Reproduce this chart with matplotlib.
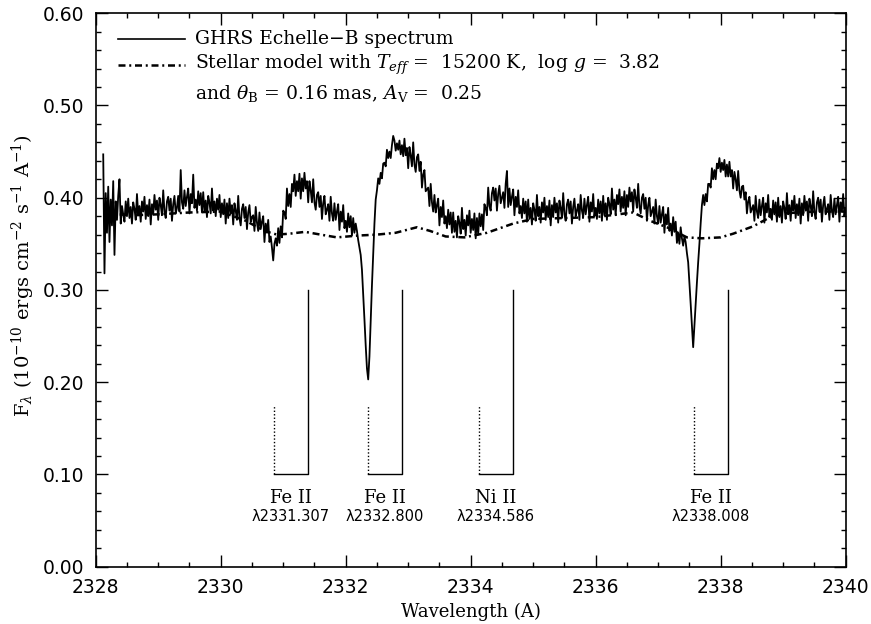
import numpy as np
import matplotlib
matplotlib.use("Agg")
import matplotlib.pyplot as plt
from matplotlib.ticker import MultipleLocator, FormatStrFormatter

# observed GHRS spectrum, sampled every 0.02 A from 2328.12 A (20 values per row = 0.4 A)
wave_start = 2328.12
wave_step = 0.02
flux = [
    0.447, 0.318, 0.405, 0.362, 0.412, 0.352, 0.398, 0.370, 0.418, 0.338, 0.396, 0.376, 0.402, 0.420, 0.372, 0.391, 0.382, 0.374, 0.396, 0.380,
    0.399, 0.378, 0.390, 0.372, 0.395, 0.388, 0.376, 0.404, 0.381, 0.391, 0.374, 0.396, 0.385, 0.401, 0.377, 0.392, 0.380, 0.398, 0.371, 0.393,
    0.382, 0.403, 0.387, 0.397, 0.376, 0.400, 0.392, 0.381, 0.408, 0.385, 0.378, 0.396, 0.401, 0.386, 0.399, 0.375, 0.393, 0.402, 0.383, 0.389,
    0.402, 0.385, 0.430, 0.395, 0.388, 0.408, 0.391, 0.401, 0.410, 0.383, 0.404, 0.394, 0.425, 0.389, 0.398, 0.386, 0.407, 0.392, 0.405, 0.384,
    0.406, 0.385, 0.397, 0.379, 0.402, 0.395, 0.383, 0.410, 0.386, 0.396, 0.380, 0.399, 0.387, 0.403, 0.379, 0.394, 0.382, 0.398, 0.372, 0.394,
    0.378, 0.399, 0.383, 0.392, 0.371, 0.394, 0.386, 0.376, 0.402, 0.378, 0.370, 0.388, 0.393, 0.378, 0.390, 0.366, 0.384, 0.392, 0.374, 0.379,
    0.381, 0.364, 0.390, 0.373, 0.364, 0.384, 0.366, 0.374, 0.380, 0.352, 0.372, 0.362, 0.376, 0.352, 0.358, 0.346, 0.332, 0.350, 0.356, 0.348,
    0.367, 0.351, 0.369, 0.357, 0.386, 0.384, 0.377, 0.410, 0.391, 0.404, 0.390, 0.415, 0.407, 0.425, 0.402, 0.418, 0.407, 0.426, 0.399, 0.421,
    0.407, 0.427, 0.410, 0.418, 0.395, 0.418, 0.408, 0.395, 0.420, 0.395, 0.387, 0.403, 0.406, 0.390, 0.402, 0.377, 0.394, 0.402, 0.382, 0.387,
    0.393, 0.375, 0.401, 0.383, 0.375, 0.394, 0.376, 0.385, 0.393, 0.365, 0.385, 0.374, 0.392, 0.367, 0.375, 0.363, 0.383, 0.368, 0.380, 0.359,
    0.378, 0.362, 0.372, 0.364, 0.354, 0.346, 0.338, 0.322, 0.296, 0.268, 0.240, 0.215, 0.203, 0.228, 0.268, 0.305, 0.340, 0.372, 0.398, 0.408,
    0.421, 0.415, 0.427, 0.421, 0.437, 0.438, 0.434, 0.452, 0.443, 0.450, 0.443, 0.457, 0.467, 0.462, 0.451, 0.459, 0.452, 0.462, 0.447, 0.457,
    0.445, 0.464, 0.446, 0.454, 0.432, 0.455, 0.446, 0.434, 0.460, 0.436, 0.428, 0.444, 0.447, 0.429, 0.439, 0.411, 0.425, 0.430, 0.407, 0.409,
    0.411, 0.391, 0.415, 0.395, 0.385, 0.403, 0.384, 0.392, 0.399, 0.370, 0.390, 0.379, 0.397, 0.372, 0.380, 0.367, 0.387, 0.371, 0.384, 0.362,
    0.384, 0.363, 0.375, 0.357, 0.380, 0.373, 0.361, 0.389, 0.366, 0.376, 0.359, 0.381, 0.370, 0.386, 0.362, 0.377, 0.365, 0.383, 0.356, 0.378,
    0.360, 0.383, 0.369, 0.382, 0.365, 0.393, 0.389, 0.381, 0.411, 0.391, 0.386, 0.405, 0.411, 0.397, 0.410, 0.386, 0.404, 0.413, 0.394, 0.400,
    0.406, 0.389, 0.415, 0.429, 0.390, 0.410, 0.392, 0.401, 0.409, 0.381, 0.401, 0.390, 0.408, 0.383, 0.391, 0.378, 0.399, 0.383, 0.396, 0.374,
    0.398, 0.377, 0.389, 0.371, 0.394, 0.387, 0.375, 0.403, 0.380, 0.390, 0.373, 0.395, 0.384, 0.400, 0.376, 0.391, 0.379, 0.397, 0.370, 0.392,
    0.379, 0.400, 0.384, 0.394, 0.373, 0.397, 0.389, 0.378, 0.405, 0.382, 0.375, 0.393, 0.398, 0.383, 0.396, 0.372, 0.390, 0.399, 0.380, 0.386,
    0.393, 0.376, 0.403, 0.386, 0.379, 0.399, 0.382, 0.392, 0.401, 0.374, 0.395, 0.385, 0.404, 0.380, 0.389, 0.377, 0.398, 0.383, 0.396, 0.375,
    0.402, 0.381, 0.394, 0.376, 0.400, 0.393, 0.382, 0.410, 0.387, 0.398, 0.381, 0.403, 0.393, 0.409, 0.385, 0.401, 0.389, 0.407, 0.381, 0.403,
    0.390, 0.411, 0.396, 0.406, 0.385, 0.409, 0.400, 0.389, 0.415, 0.391, 0.383, 0.400, 0.404, 0.388, 0.400, 0.375, 0.392, 0.400, 0.380, 0.385,
    0.390, 0.372, 0.398, 0.380, 0.372, 0.391, 0.373, 0.382, 0.390, 0.362, 0.382, 0.371, 0.389, 0.364, 0.372, 0.359, 0.379, 0.363, 0.374, 0.351,
    0.362, 0.350, 0.368, 0.356, 0.348, 0.358, 0.352, 0.340, 0.330, 0.308, 0.285, 0.262, 0.238, 0.262, 0.285, 0.308, 0.330, 0.350, 0.372, 0.392,
    0.403, 0.392, 0.404, 0.396, 0.415, 0.415, 0.411, 0.432, 0.420, 0.430, 0.420, 0.437, 0.432, 0.443, 0.428, 0.438, 0.430, 0.441, 0.423, 0.436,
    0.423, 0.439, 0.423, 0.430, 0.410, 0.428, 0.420, 0.408, 0.429, 0.408, 0.400, 0.412, 0.413, 0.398, 0.406, 0.383, 0.396, 0.401, 0.384, 0.388,
    0.392, 0.375, 0.402, 0.385, 0.378, 0.398, 0.381, 0.391, 0.400, 0.373, 0.394, 0.384, 0.403, 0.379, 0.388, 0.376, 0.397, 0.382, 0.395, 0.374,
    0.400, 0.379, 0.391, 0.373, 0.396, 0.389, 0.377, 0.405, 0.382, 0.392, 0.375, 0.397, 0.386, 0.402, 0.378, 0.393, 0.381, 0.399, 0.372, 0.394,
    0.381, 0.402, 0.386, 0.396, 0.375, 0.399, 0.391, 0.380, 0.407, 0.384, 0.377, 0.395, 0.400, 0.385, 0.398, 0.374, 0.392, 0.401, 0.382, 0.388,
    0.393, 0.376, 0.403, 0.386, 0.379, 0.399, 0.382, 0.392, 0.401, 0.374, 0.395, 0.385, 0.404, 0.380, 0.389,
]

# stellar model
model_wave = [2328.12, 2328.6, 2329.0, 2329.5, 2330.0, 2330.4, 2330.7, 2330.9,
              2331.1, 2331.35, 2331.6, 2331.86, 2332.2, 2332.5, 2332.8, 2333.14,
              2333.35, 2333.6, 2333.9, 2334.26, 2334.68, 2335.0, 2335.5, 2336.0,
              2336.6, 2336.87, 2337.14, 2337.46, 2337.7, 2338.0, 2338.2, 2338.52,
              2338.74, 2339.0, 2339.5, 2340.0]
model_flux = [0.383, 0.381, 0.382, 0.384, 0.385, 0.375, 0.364, 0.360,
              0.361, 0.363, 0.360, 0.357, 0.359, 0.360, 0.362, 0.368,
              0.364, 0.358, 0.357, 0.362, 0.372, 0.377, 0.378, 0.379,
              0.384, 0.375, 0.368, 0.357, 0.356, 0.357, 0.361, 0.369,
              0.377, 0.383, 0.385, 0.385]

# line identifications
line_ions = ["Fe II", "Fe II", "Ni II", "Fe II"]
line_labels = ["λ2331.307", "λ2332.800", "λ2334.586", "λ2338.008"]
line_solid = [2331.40, 2332.90, 2334.67, 2338.11]
line_dotted = [2330.85, 2332.35, 2334.13, 2337.57]
mark_base = 0.10
mark_top = 0.30
mark_dot_top = 0.175

plt.rcParams['mathtext.fontset'] = 'dejavuserif'
serif = 'DejaVu Serif'

fig = plt.figure(figsize=(8.71, 6.24), dpi=100)
ax = fig.add_axes([0.1099, 0.0918, 0.861, 0.887])

wave = wave_start + wave_step * np.arange(len(flux))
ax.plot(wave, flux, color='black', lw=1.3)
ax.plot(model_wave, model_flux, color='black', lw=1.8, dashes=(2.8, 1.5, 0.8, 1.5))

for ion, lab, xs, xd in zip(line_ions, line_labels, line_solid, line_dotted):
    ax.plot([xd, xd], [mark_base, mark_dot_top], color='black', lw=1.0, ls=(0, (1, 1.5)))
    ax.plot([xd, xs, xs], [mark_base, mark_base, mark_top], color='black', lw=1.0)
    xm = (xs + xd) / 2
    ax.text(xm, 0.075, ion, ha='center', va='center', fontsize=13, family=serif)
    ax.text(xm, 0.054, lab, ha='center', va='center', fontsize=10.5)

# legend drawn by hand
ax.plot([0.030, 0.119], [0.954, 0.954], transform=ax.transAxes, color='black', lw=1.2)
ax.plot([0.030, 0.119], [0.907, 0.907], transform=ax.transAxes, color='black', lw=1.8,
        dashes=(2.8, 1.5, 0.8, 1.5))
ax.text(0.132, 0.954, "GHRS Echelle−B spectrum", transform=ax.transAxes,
        va='center', fontsize=13.5, family=serif)
ax.text(0.132, 0.907, r"Stellar model with $T_{eff}$ =  15200 K,  log $g$ =  3.82",
        transform=ax.transAxes, va='center', fontsize=13.5, family=serif)
ax.text(0.132, 0.855, r"and $\theta_{\rm B}$ = 0.16 mas, $A_{\rm V}$ =  0.25",
        transform=ax.transAxes, va='center', fontsize=13.5, family=serif)

ax.set_xlim(2328, 2340)
ax.set_ylim(0, 0.6)
ax.xaxis.set_major_locator(MultipleLocator(2))
ax.xaxis.set_minor_locator(MultipleLocator(0.5))
ax.yaxis.set_major_locator(MultipleLocator(0.1))
ax.yaxis.set_minor_locator(MultipleLocator(0.02))
ax.yaxis.set_major_formatter(FormatStrFormatter('%.2f'))
ax.tick_params(which='both', direction='in', top=True, right=True, width=1.0)
ax.tick_params(which='major', length=8.6, labelsize=13.5, pad=8)
ax.tick_params(which='minor', length=3.6)
for s in ax.spines.values():
    s.set_linewidth(1.2)

ax.set_xlabel("Wavelength (A)", fontsize=13, family=serif, labelpad=4)
ax.set_ylabel(r"F$_\lambda$ (10$^{-10}$ ergs cm$^{-2}$ s$^{-1}$ A$^{-1}$)",
              fontsize=14, family=serif)
ax.yaxis.set_label_coords(-0.078, 0.527)

fig.savefig("out.png", dpi=100)
